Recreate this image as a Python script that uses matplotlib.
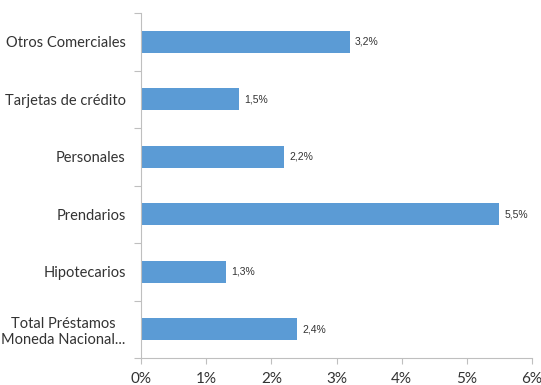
import matplotlib
matplotlib.use("Agg")
import matplotlib.pyplot as plt
from matplotlib.ticker import FuncFormatter

categories = ["Otros Comerciales", "Tarjetas de crédito", "Personales",
              "Prendarios", "Hipotecarios", "Total Préstamos\nMoneda Nacional..."]
values = [3.2, 1.5, 2.2, 5.5, 1.3, 2.4]
xticks = [0, 1, 2, 3, 4, 5, 6]

bar_color = "#5B9BD5"
axis_color = "#BFBFBF"
text_color = "#333333"

fig = plt.figure(figsize=(5.41, 3.85), dpi=100)
ax = fig.add_axes([0.2606, 0.0701, 0.7228, 0.8961])

pos = list(range(len(categories)))
ax.barh(pos, values, height=0.38, color=bar_color)
ax.set_ylim(len(categories) - 0.5, -0.5)
ax.set_xlim(0, 6)

for p, v in zip(pos, values):
    ax.text(v + 0.08, p, ("%.1f%%" % v).replace(".", ","), va="center", ha="left",
            fontsize=7.5, color=text_color, family="Liberation Sans")

ax.set_yticks(pos)
ax.set_yticklabels(categories, fontsize=10.5, color=text_color, family="Lato",
                   multialignment="center")
ax.set_yticks([i - 0.5 for i in range(len(categories) + 1)], minor=True)
ax.tick_params(axis="y", which="major", length=0, pad=11)
ax.tick_params(axis="y", which="minor", length=5, color=axis_color, width=0.8)

ax.set_xticks(xticks)
ax.xaxis.set_major_formatter(FuncFormatter(lambda x, _: "%d%%" % x))
ax.tick_params(axis="x", length=4, color=axis_color, width=0.8, labelsize=11,
               labelcolor=text_color, pad=6)
for lab in ax.get_xticklabels():
    lab.set_family("Lato")

for s in ["top", "right"]:
    ax.spines[s].set_visible(False)
for s in ["left", "bottom"]:
    ax.spines[s].set_color(axis_color)
    ax.spines[s].set_linewidth(0.8)

plt.savefig("out.png", dpi=100)
